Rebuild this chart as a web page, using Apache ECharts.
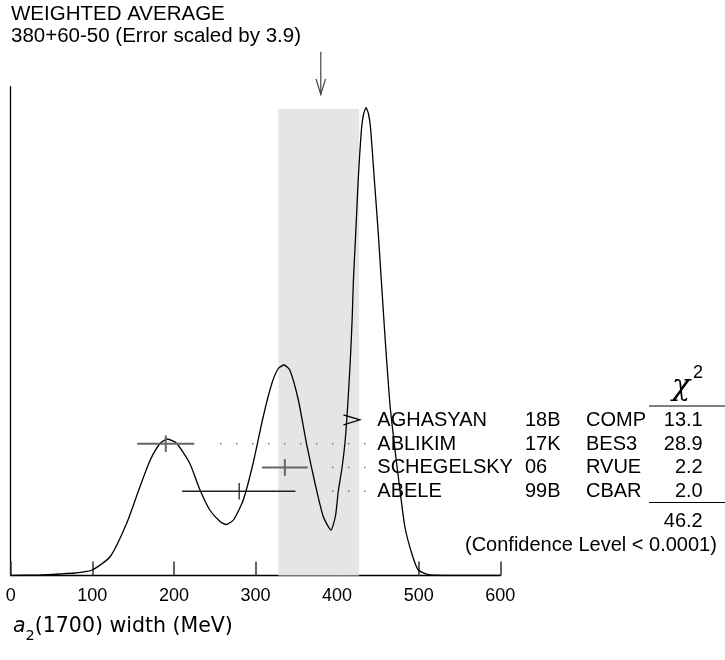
<!DOCTYPE html>
<html>
<head>
<meta charset="utf-8">
<script src="https://cdn.jsdelivr.net/npm/echarts@6/dist/echarts.min.js"></script>
<style>
html,body{margin:0;padding:0;background:#fff;}
#c{width:725px;height:660px;}
</style>
</head>
<body>
<div id="c"></div>
<script>
// ---------------- data ----------------
const curveX = [0, 36, 60, 79, 100, 122, 142, 158.5, 171, 183, 192, 203.5, 219.5, 232, 244, 256.5, 264, 273, 285, 297, 309.5, 320, 328, 335, 342, 352.5, 362.5, 373, 383, 392.5, 398, 401.5, 406, 409.5, 412, 414.5, 416.5, 418.5, 420, 423, 426, 430, 432.5, 435.5, 438.5, 441, 445.5, 450, 454, 458, 460, 465, 471, 477, 483, 491.5, 499.5, 514, 550, 600];
const curveY = [0, 0.5, 1.5, 2.5, 5.5, 19, 52, 89, 115.5, 132, 136.5, 132, 112, 85.5, 65.5, 54, 51, 55.5, 75.5, 112, 159, 192, 207, 210.5, 205.5, 175.5, 132, 92, 59, 45.5, 59.5, 84.5, 107.5, 131.5, 157.5, 190.5, 220.5, 257.5, 295.5, 345.5, 397.5, 447.5, 461.5, 467.8, 461.5, 447.5, 397.5, 347.5, 297.5, 247.5, 223.5, 169, 125.5, 85.5, 49, 22, 5.5, 0.5, 0, 0];

const experiments = ['AGHASYAN', 'ABLIKIM', 'SCHEGELSKY', 'ABELE'];
const years = ['18B', '17K', '06', '99B'];
const techniques = ['COMP', 'BES3', 'RVUE', 'CBAR'];
const chi2Values = ['13.1', '28.9', '2.2', '2.0'];
const values = [null, 190, 336, 280];
const errLow = [null, 35, 28, 70];
const errHigh = [null, 35, 28, 69];
const arrowTip = [428, null, null, null];

const xTicks = [0, 100, 200, 300, 400, 500, 600];
const average = 380;
const bandLow = 328;
const bandHigh = 427;
const bandTop = 466.5;
const chi2Total = '46.2';
const titleLine1 = 'WEIGHTED AVERAGE';
const titleLine2 = '380+60-50 (Error scaled by 3.9)';
const confidenceText = '(Confidence Level < 0.0001)';

// ---------------- layout ----------------
const FONT = '"Liberation Sans", Arial, Helvetica, sans-serif';
const ROW0 = 14;          // first row position on the hidden row axis
const ROW_AXIS_MAX = 20.54;
const nameX = 377.3, yearX = 525, techX = 586, chi2Right = 702.7;
const dotEnd = nameX - 12.6, dotStep = 16;
const barStyles = [
  {stroke: '#000', lineWidth: 1.2},
  {stroke: '#666', lineWidth: 2},
  {stroke: '#666', lineWidth: 2},
  {stroke: '#222', lineWidth: 1.3}
];

const chart = echarts.init(document.getElementById('c'), null, {renderer: 'canvas'});

const rowData = [];
values.forEach((v, i) => {
  if (v !== null) rowData.push([v, ROW0 + i, v - errLow[i], v + errHigh[i], i]);
});
const arrowData = [];
arrowTip.forEach((v, i) => { if (v !== null) arrowData.push([v, ROW0 + i]); });

const option = {
  animation: false,
  backgroundColor: '#fff',
  grid: {left: 10.7, right: 224.7, top: 86.7, bottom: 84.5, containLabel: false, outerBoundsMode: 'none'},
  xAxis: {
    type: 'value', min: xTicks[0], max: xTicks[xTicks.length - 1], interval: 100,
    axisLine: {show: true, onZero: false, lineStyle: {color: '#000', width: 1.3}},
    axisTick: {show: true, inside: true, length: 14, lineStyle: {color: '#333', width: 1.5}},
    axisLabel: {show: true, margin: 12, fontSize: 18, fontFamily: FONT, color: '#000', showMinLabel: true, showMaxLabel: true, hideOverlap: false},
    splitLine: {show: false}
  },
  yAxis: [
    {type: 'value', min: 0, max: 488.8,
     axisLine: {show: true, onZero: false, lineStyle: {color: '#000', width: 1.3}},
     axisTick: {show: false}, axisLabel: {show: false}, splitLine: {show: false}},
    {type: 'value', min: 0, max: ROW_AXIS_MAX, inverse: true, show: false,
     axisLine: {show: false}, axisTick: {show: false}, axisLabel: {show: false}, splitLine: {show: false}}
  ],
  series: [
    {
      type: 'custom', z: 1, silent: true, xAxisIndex: 0, yAxisIndex: 0,
      data: [[bandLow, bandHigh, bandTop]],
      renderItem: function (params, api) {
        const p0 = api.coord([api.value(0), 0]);
        const p1 = api.coord([api.value(1), api.value(2)]);
        return {type: 'rect', shape: {x: p0[0], y: p1[1], width: p1[0] - p0[0], height: p0[1] - p1[1]},
                style: {fill: '#e5e5e5'}};
      }
    },
    {
      type: 'line', z: 3, silent: true, xAxisIndex: 0, yAxisIndex: 0,
      data: curveX.map((x, i) => [x, curveY[i]]),
      smooth: 0.2, showSymbol: false, symbol: 'none',
      lineStyle: {color: '#000', width: 1.3}
    },
    {
      type: 'custom', z: 4, silent: true, xAxisIndex: 0, yAxisIndex: 1,
      data: rowData,
      renderItem: function (params, api) {
        const idx = api.value(4);
        const c = api.coord([api.value(0), api.value(1)]);
        const lo = api.coord([api.value(2), api.value(1)]);
        const hi = api.coord([api.value(3), api.value(1)]);
        const st = barStyles[idx];
        const children = [
          {type: 'line', shape: {x1: lo[0], y1: c[1], x2: hi[0], y2: c[1]}, style: {stroke: st.stroke, lineWidth: st.lineWidth}},
          {type: 'line', shape: {x1: c[0], y1: c[1] - 8.3, x2: c[0], y2: c[1] + 8.3}, style: {stroke: st.stroke, lineWidth: st.lineWidth}}
        ];
        for (let x = dotEnd; x >= hi[0] + 24; x -= dotStep) {
          children.push({type: 'rect', shape: {x: x - 0.75, y: c[1] - 0.75, width: 1.5, height: 1.5}, style: {fill: '#777'}});
        }
        return {type: 'group', children: children};
      }
    },
    {
      type: 'custom', z: 4, silent: true, xAxisIndex: 0, yAxisIndex: 1,
      data: arrowData,
      renderItem: function (params, api) {
        const t = api.coord([api.value(0), api.value(1)]);
        return {type: 'polyline', shape: {points: [[t[0] - 16.5, t[1] - 5], [t[0], t[1]], [t[0] - 16.5, t[1] + 5]]},
                style: {stroke: '#000', lineWidth: 1.2, fill: null}};
      }
    }
  ]
};
chart.setOption(option);

// ---------------- texts and decorations ----------------
function txt(x, y, s, size, align, family, extra) {
  return {type: 'text', x: x, y: y, silent: true, z: 10,
          style: Object.assign({text: s, fill: '#000', font: size + 'px ' + (family || FONT),
                                align: align || 'left', verticalAlign: 'middle'}, extra || {})};
}
function hline(x1, x2, y) {
  return {type: 'line', silent: true, z: 10, shape: {x1: x1, y1: y, x2: x2, y2: y}, style: {stroke: '#000', lineWidth: 1}};
}

const g = [];
g.push(txt(11, 14, titleLine1, 20.5));
g.push(txt(11, 36, titleLine2, 20.5));

const ax = chart.convertToPixel({xAxisIndex: 0}, average);
g.push({type: 'line', silent: true, z: 10, shape: {x1: ax, y1: 51.7, x2: ax, y2: 94.5}, style: {stroke: '#444', lineWidth: 1.2}});
g.push({type: 'polyline', silent: true, z: 10, shape: {points: [[ax - 4.7, 79], [ax, 94.5], [ax + 4.7, 79]]}, style: {stroke: '#444', lineWidth: 1.2, fill: null}});

experiments.forEach((name, i) => {
  const y = chart.convertToPixel({yAxisIndex: 1}, ROW0 + i) + 0.5;
  g.push(txt(nameX, y, name, 20));
  g.push(txt(yearX, y, years[i], 20));
  g.push(txt(techX, y, techniques[i], 20));
  g.push(txt(chi2Right, y, chi2Values[i], 20, 'right'));
});

g.push(txt(672, 387, 'χ', 30, 'left', '"DejaVu Serif", serif', {fontStyle: 'italic', font: 'italic 30px "DejaVu Serif", serif'}));
g.push(txt(693, 373.5, '2', 18, 'left'));
g.push(hline(649, 725, 406));
g.push(hline(649, 725, 502.5));
g.push(txt(chi2Right, 521.7, chi2Total, 20, 'right'));
g.push(txt(465, 545, confidenceText, 20, 'left'));

g.push({
  type: 'text', x: 13, y: 610, silent: true, z: 10,
  style: {
    text: '{a|a}{s|2}{n|(1700) width (MeV)}',
    fill: '#000', verticalAlign: 'top', align: 'left',
    rich: {
      a: {fontFamily: '"DejaVu Sans", sans-serif', fontSize: 20.5, fontStyle: 'italic', fill: '#000'},
      s: {fontFamily: '"DejaVu Sans", sans-serif', fontSize: 14.5, verticalAlign: 'bottom', lineHeight: 34, fill: '#000'},
      n: {fontFamily: '"DejaVu Sans", sans-serif', fontSize: 20.5, fill: '#000'}
    }
  }
});

chart.setOption({graphic: {elements: g}});
</script>
</body>
</html>
